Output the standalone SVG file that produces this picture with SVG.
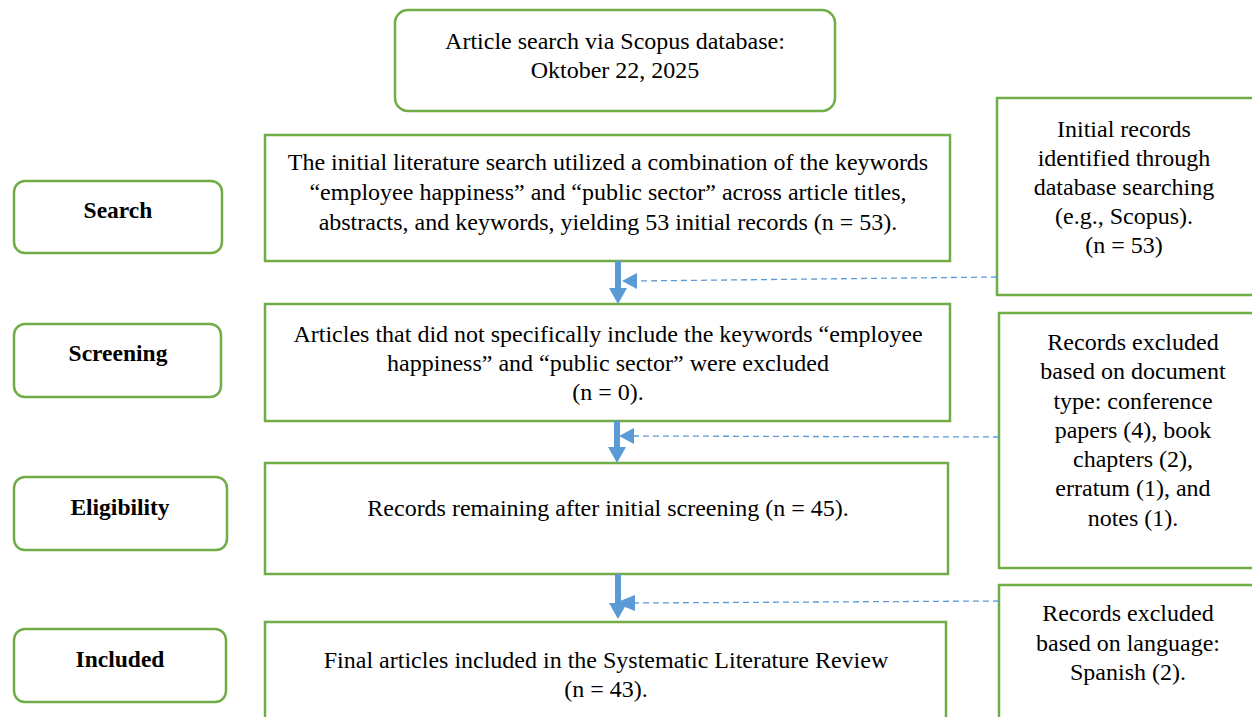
<svg xmlns="http://www.w3.org/2000/svg" width="1252" height="717" viewBox="0 0 1252 717">
<defs>
<style>
.b{fill:#fff;stroke:#70AD47;stroke-width:2.5}
.t{font-family:"Liberation Serif","Times New Roman",serif;font-size:24px;fill:#000;text-anchor:middle}
.l{font-family:"Liberation Serif","Times New Roman",serif;font-size:23.5px;font-weight:bold;fill:#000;text-anchor:middle}
.dash{fill:none;stroke:#5B9BD5;stroke-width:1.3;stroke-dasharray:6,4}
.shaft{fill:none;stroke:#5B9BD5;stroke-width:6}
.head{fill:#5B9BD5}
</style>
</defs>
<rect width="1252" height="717" fill="#fff"/>
<g id="start">
<rect class="b" x="395" y="10" width="440" height="101" rx="13"/>
<text class="t" x="615" y="49">Article search via Scopus database:</text>
<text class="t" x="615" y="78">Oktober 22, 2025</text>
</g>
<g id="label-search">
<rect class="b" x="14" y="181" width="208" height="72" rx="11"/>
<text class="l" x="118" y="218">Search</text>
</g>
<g id="label-screening">
<rect class="b" x="14" y="324" width="207" height="73" rx="11"/>
<text class="l" x="118" y="361">Screening</text>
</g>
<g id="label-eligibility">
<rect class="b" x="14" y="477" width="213" height="73" rx="11"/>
<text class="l" x="120" y="515">Eligibility</text>
</g>
<g id="label-included">
<rect class="b" x="14" y="629" width="212" height="73" rx="11"/>
<text class="l" x="120" y="667">Included</text>
</g>
<g id="search">
<rect class="b" x="265" y="135" width="685" height="126"/>
<text class="t" x="608" y="170">The initial literature search utilized a combination of the keywords</text>
<text class="t" x="608" y="200">“employee happiness” and “public sector” across article titles,</text>
<text class="t" x="608" y="230">abstracts, and keywords, yielding 53 initial records (n = 53).</text>
</g>
<g id="screening">
<rect class="b" x="265" y="304" width="685" height="117"/>
<text class="t" x="608" y="342">Articles that did not specifically include the keywords “employee</text>
<text class="t" x="608" y="371">happiness” and “public sector” were excluded</text>
<text class="t" x="608" y="400">(n = 0).</text>
</g>
<g id="eligibility">
<rect class="b" x="265" y="463" width="683" height="111"/>
<text class="t" x="608" y="516">Records remaining after initial screening (n = 45).</text>
</g>
<g id="included">
<rect class="b" x="265" y="622" width="681" height="110"/>
<text class="t" x="606" y="668">Final articles included in the Systematic Literature Review</text>
<text class="t" x="606" y="697">(n = 43).</text>
</g>
<g id="identified">
<rect class="b" x="997" y="98" width="270" height="197"/>
<text class="t" x="1124" y="137">Initial records</text>
<text class="t" x="1124" y="166">identified through</text>
<text class="t" x="1124" y="195">database searching</text>
<text class="t" x="1124" y="224">(e.g., Scopus).</text>
<text class="t" x="1124" y="253">(n = 53)</text>
</g>
<g id="excluded-type">
<rect class="b" x="999" y="313" width="270" height="255"/>
<text class="t" x="1133" y="350">Records excluded</text>
<text class="t" x="1133" y="379">based on document</text>
<text class="t" x="1133" y="409">type: conference</text>
<text class="t" x="1133" y="438">papers (4), book</text>
<text class="t" x="1133" y="467">chapters (2),</text>
<text class="t" x="1133" y="496">erratum (1), and</text>
<text class="t" x="1133" y="526">notes (1).</text>
</g>
<g id="excluded-language">
<rect class="b" x="999" y="585" width="270" height="150"/>
<text class="t" x="1128" y="621">Records excluded</text>
<text class="t" x="1128" y="651">based on language:</text>
<text class="t" x="1128" y="680">Spanish (2).</text>
</g>
<g id="connectors">
<line class="shaft" x1="618" y1="261" x2="618" y2="290"/>
<polygon class="head" points="609,288 627,288 618,304"/>
<line class="shaft" x1="617" y1="421" x2="617" y2="449"/>
<polygon class="head" points="608,447 626,447 617,463"/>
<line class="shaft" x1="618" y1="574" x2="618" y2="605"/>
<polygon class="head" points="609,603 627,603 618,619"/>
<line class="dash" x1="997" y1="277" x2="636" y2="281"/>
<polygon class="head" points="622,281 637,273 637,289"/>
<line class="dash" x1="999" y1="437" x2="633" y2="436"/>
<polygon class="head" points="619,436 634,428 634,444"/>
<line class="dash" x1="999" y1="601" x2="634" y2="603"/>
<polygon class="head" points="615,603 635,595 635,611"/>
</g>
</svg>
